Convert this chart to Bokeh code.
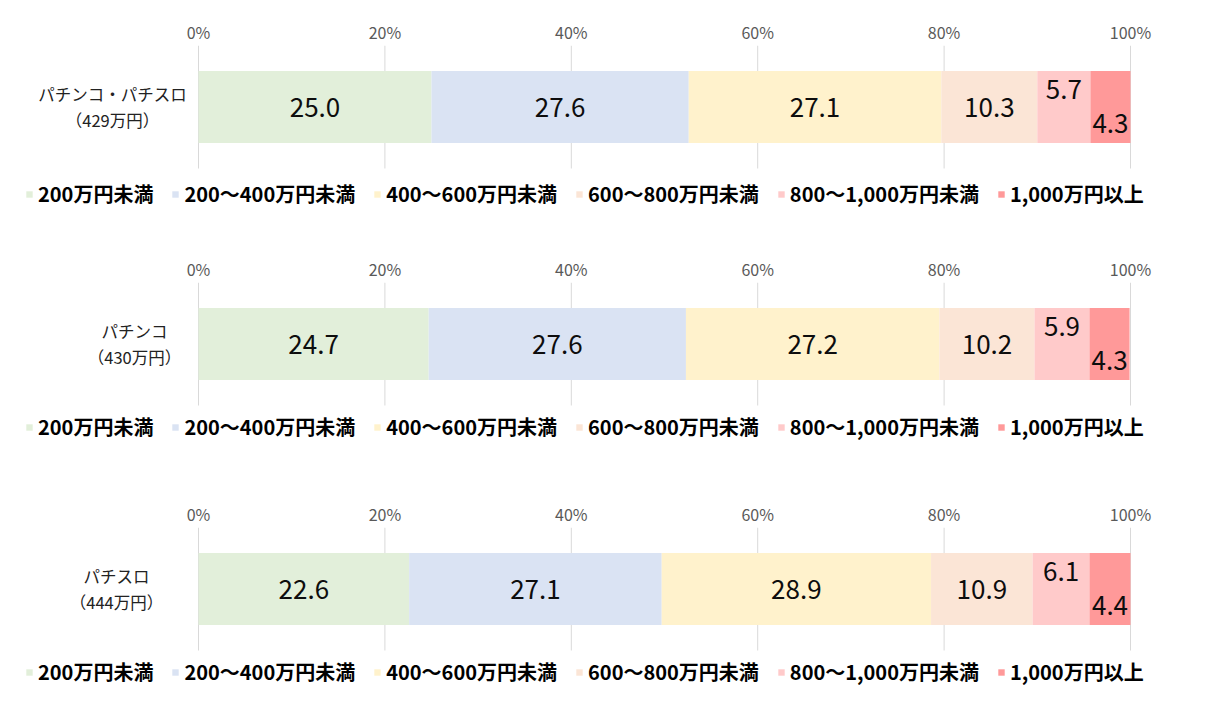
import numpy as np
from bokeh.plotting import figure
from bokeh.models import (ColumnDataSource, Range1d, FixedTicker,
                          PrintfTickFormatter, Legend, LegendItem)
from bokeh.layouts import column
from bokeh.core.properties import value
from bokeh.embed import file_html
from bokeh.resources import INLINE

# ---- data ----
categories = ["200万円未満", "200～400万円未満", "400～600万円未満",
              "600～800万円未満", "800～1,000万円未満", "1,000万円以上"]
groups = ["パチンコ・パチスロ", "パチンコ", "パチスロ"]
group_income = ["（429万円）", "（430万円）", "（444万円）"]
vals_all = [25.0, 27.6, 27.1, 10.3, 5.7, 4.3]
vals_pachinko = [24.7, 27.6, 27.2, 10.2, 5.9, 4.3]
vals_pachislot = [22.6, 27.1, 28.9, 10.9, 6.1, 4.4]
tick_values = [0, 20, 40, 60, 80, 100]

# ---- style / layout ----
colors = ["#E2EFDA", "#DAE3F3", "#FFF2CC", "#FBE5D6", "#FFCACA", "#FF9999"]
label_offsets = [0, 0, 0, 0, -18, 16]
FONT = "Noto Sans CJK JP"
W = 1202
PX_PER_PCT = 9.32
ZERO_PX = 198
BAND_PX = 123.0          # height of the gridline band (one category)
BAR_H = 0.585
cat_label_center_px = [112, 134, 116]


def make_panel(group, income, vals, height, top, legend_vy, label_px):
    frame_h = height - top
    p = figure(width=W, height=height,
               x_range=Range1d(-ZERO_PX / PX_PER_PCT, (W - ZERO_PX) / PX_PER_PCT),
               y_range=Range1d(0.5 - frame_h / BAND_PX, 0.5),
               x_axis_location="above", output_backend="svg", toolbar_location=None,
               min_border_left=0, min_border_right=0,
               min_border_top=top, min_border_bottom=0)
    p.outline_line_color = None
    p.yaxis.visible = False
    p.xgrid.grid_line_color = None
    p.ygrid.grid_line_color = None

    # gridlines limited to the category band
    p.segment(x0=tick_values, x1=tick_values, y0=[-0.5] * len(tick_values),
              y1=[0.5] * len(tick_values), line_color="#D9D9D9", line_width=1)

    arr = np.array(vals)
    rights = np.cumsum(arr)
    lefts = rights - arr
    items = []
    for i, cat in enumerate(categories):
        src = ColumnDataSource(dict(y=[0], left=[lefts[i]], right=[rights[i]],
                                    mid=[(lefts[i] + rights[i]) / 2],
                                    lab=[f"{vals[i]:.1f}"]))
        r = p.hbar(y="y", left="left", right="right", height=BAR_H, source=src,
                   fill_color=colors[i], line_color=None)
        p.text(x="mid", y="y", text="lab", source=src, text_align="center",
               text_baseline="middle", text_font=value(FONT), text_font_size="26px",
               text_color="#0d0d0d", y_offset=label_offsets[i])
        items.append(LegendItem(label=cat, renderers=[r]))

    # category label (left of the bars)
    lx = (label_px - ZERO_PX) / PX_PER_PCT
    csrc = ColumnDataSource(dict(x=[lx], y=[0], t=[group + "\n" + income]))
    p.text(x="x", y="y", text="t", source=csrc, text_align="center",
           text_baseline="middle", text_font=value(FONT), text_font_size="16.5px",
           text_color="#222222", text_line_height=1.12)

    legend = Legend(items=items, orientation="horizontal", location=(25, legend_vy),
                    padding=0, margin=0, spacing=18, label_standoff=5,
                    glyph_width=8, glyph_height=8, label_height=20,
                    label_text_font=FONT, label_text_font_size="20px",
                    label_text_font_style="bold", label_text_color="#000000",
                    background_fill_alpha=0, border_line_color=None)
    p.add_layout(legend, "center")

    xa = p.xaxis[0]
    xa.ticker = FixedTicker(ticks=tick_values)
    xa.formatter = PrintfTickFormatter(format="%d%%")
    xa.axis_line_color = None
    xa.major_tick_line_color = None
    xa.minor_tick_line_color = None
    xa.major_tick_out = 0
    xa.major_tick_in = 0
    xa.minor_tick_out = 0
    xa.major_label_text_font = FONT
    xa.major_label_text_font_size = "16px"
    xa.major_label_text_color = "#595959"
    xa.major_label_standoff = 2
    return p


p1 = make_panel(groups[0], group_income[0], vals_all, 245, 45, 37, cat_label_center_px[0])
p2 = make_panel(groups[1], group_income[1], vals_pachinko, 245, 37, 49, cat_label_center_px[1])
p3 = make_panel(groups[2], group_income[2], vals_pachislot, 222, 37, 26, cat_label_center_px[2])
page = column(p1, p2, p3)

open("out.html", "w").write(file_html(page, INLINE))
